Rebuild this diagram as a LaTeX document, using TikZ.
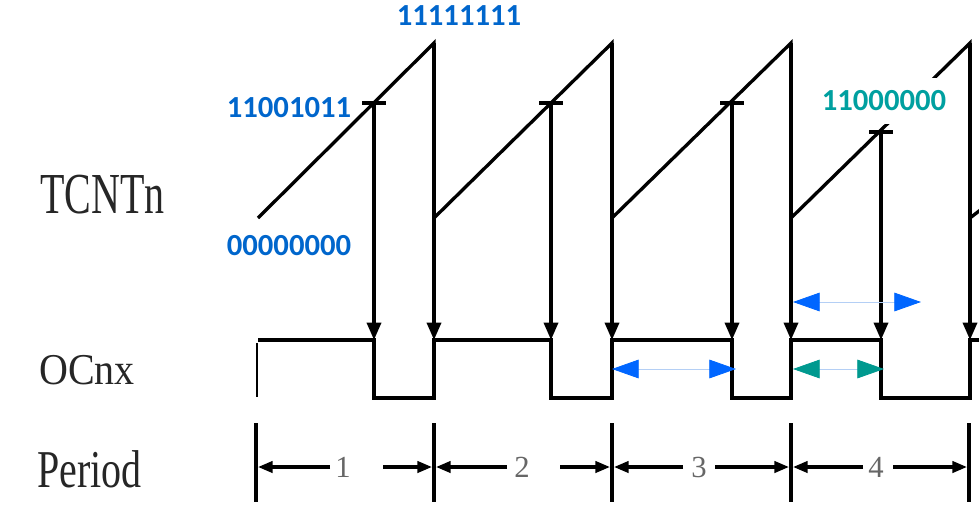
\documentclass[tikz,border=0pt]{standalone}
\usepackage{fontspec}
\setmainfont{Liberation Serif}
\newfontfamily\calibri{Carlito}
\usetikzlibrary{arrows.meta}
\definecolor{lblblue}{HTML}{0066CC}
\definecolor{arrblue}{HTML}{0066FF}
\definecolor{lblteal}{HTML}{00A0A0}
\definecolor{arrteal}{HTML}{00998F}
\definecolor{thinblue}{HTML}{B4CFF5}

\begin{document}
\begin{tikzpicture}[x=0.75pt,y=0.75pt,yscale=-1,xscale=1,
  wave/.style={line width=2.5pt},
  trig/.style={line width=2.5pt,-{Triangle[length=13pt,width=10.5pt]}},
  bar/.style={line width=3.2pt},
  per/.style={line width=2.4pt,-{Triangle[length=11pt,width=8.5pt]}},
  gap/.style={draw=thinblue,line width=0.6pt,{Triangle[length=20pt,width=14pt,color=#1]}-{Triangle[length=20pt,width=14pt,color=#1]}},
  sig/.style={font=\fontsize{30}{34}\selectfont,anchor=base west,inner sep=0pt,text=black!85},
  val/.style={font=\calibri\bfseries\fontsize{23}{27}\selectfont,text=#1,inner sep=0pt},
  num/.style={font=\fontsize{23}{27}\selectfont,text=black!60,inner sep=0pt}
]
\useasboundingbox (0,0) rectangle (979,511);
\clip (0,0) rectangle (979,511);

% key points of the counter
\coordinate (b0) at (258,218);
\coordinate (t1) at (434,43);  \coordinate (b1) at (434,218);
\coordinate (t2) at (612,43);  \coordinate (b2) at (612,218);
\coordinate (t3) at (791,43);  \coordinate (b3) at (791,218);
\coordinate (t4) at (970,43);  \coordinate (b4) at (970,218);
\coordinate (c1) at (374,103);
\coordinate (c2) at (551,103);
\coordinate (c3) at (732,103);
\coordinate (c4) at (881,132);

%Sawtooth
\draw[wave] (b0) -- (t1) -- (b1) -- (t2) -- (b2) -- (t3) -- (b3) -- (t4) -- (b4) -- (1010,187);

%Compare marks
\foreach \c in {c1,c2,c3,c4}
  \draw[wave] ([xshift=-9pt]\c) -- ([xshift=9pt]\c);

%Trigger arrows
\draw[trig] (c1) -- (374,340);
\draw[trig] (t1) -- (434,340);
\draw[trig] (c2) -- (551,340);
\draw[trig] (t2) -- (612,340);
\draw[trig] (c3) -- (732,340);
\draw[trig] (t3) -- (791,340);
\draw[trig] (c4) -- (881,340);
\draw[trig] (t4) -- (970,340);

%Output waveform
\draw[line width=1.2pt] (257,343) -- (257,397);
\draw[wave] (258,340) -- (374,340) -- (374,398) -- (434,398) -- (434,340) -- (551,340) -- (551,398) -- (612,398) -- (612,340) -- (732,340) -- (732,398) -- (791,398) -- (791,340) -- (881,340) -- (881,398) -- (970,398) -- (970,340) -- (990,340);

%Pulse widths
\draw[gap=arrblue] (612,369) -- (736,369);
\draw[gap=arrblue] (793,302) -- (921,302);
\draw[gap=arrteal] (793,369) -- (884,369);

%Period bars
\coordinate (q0) at (256,467);
\coordinate (q1) at (434,467);
\coordinate (q2) at (612,467);
\coordinate (q3) at (791,467);
\coordinate (q4) at (969,467);
\foreach \q in {q0,q1,q2,q3,q4}
  \draw[bar] ([yshift=-33pt]\q) -- ([yshift=26pt]\q);

% Text Node
\node[num] (n1) at (343,467) {1};
\node[num] (n2) at (522,467) {2};
\node[num] (n3) at (699,467) {3};
\node[num] (n4) at (876,467) {4};

\coordinate (l1) at (330,467); \coordinate (r1) at (383,467);
\coordinate (l2) at (507,467); \coordinate (r2) at (560,467);
\coordinate (l3) at (683,467); \coordinate (r3) at (715,467);
\coordinate (l4) at (863,467); \coordinate (r4) at (893,467);
\draw[per] (l1) -- ([xshift=1.5pt]q0);
\draw[per] (r1) -- ([xshift=-1.5pt]q1);
\draw[per] (l2) -- ([xshift=1.5pt]q1);
\draw[per] (r2) -- ([xshift=-1.5pt]q2);
\draw[per] (l3) -- ([xshift=1.5pt]q2);
\draw[per] (r3) -- ([xshift=-1.5pt]q3);
\draw[per] (l4) -- ([xshift=1.5pt]q3);
\draw[per] (r4) -- ([xshift=-1.5pt]q4);

% Text Node
\node[sig] (tcnt) at (40,213) {\scalebox{1}[1.45]{TCNTn}};
% Text Node
\node[sig] (ocnx) at (39,384) {\scalebox{1}[1.1]{OCnx}};
% Text Node
\node[sig] (period) at (37,487) {\scalebox{1}[1.33]{Period}};

% Text Node
\node[val=lblblue] (vtop) at (459,16) {11111111};
% Text Node
\node[val=lblblue] (vcmp) at (289,108) {11001011};
% Text Node
\node[val=lblblue] (vbot) at (289,246) {00000000};
% Text Node
\node[val=lblteal,fill=white,inner xsep=4pt,minimum height=35pt] (vnew) at (884,101) {11000000};

\end{tikzpicture}
\end{document}
